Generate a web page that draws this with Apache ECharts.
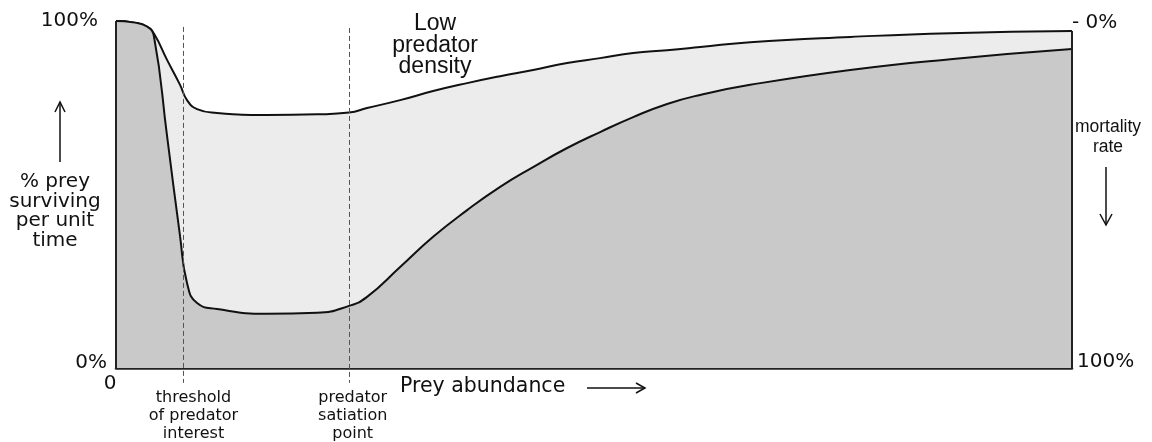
<!DOCTYPE html>
<html>
<head>
<meta charset="utf-8">
<script src="https://cdn.jsdelivr.net/npm/echarts@6/dist/echarts.min.js"></script>
<style>
  html, body { margin: 0; padding: 0; background: #fff; }
  #chart { width: 1152px; height: 442px; }
</style>
</head>
<body>
<div id="chart"></div>
<script>
// prey abundance (arbitrary units, 0..100) and % prey surviving per unit time
const abundance = [0, 1.78, 3.24, 3.98, 5.34, 6.70, 7.43, 8.48, 10.57, 15.80, 21.03, 24.38, 26.26, 29.72, 33.17, 36.73, 40.18, 43.63, 47.19, 50.64, 54.10, 57.65, 61.11, 66.34, 76.80, 87.27, 100];
const lowDensity = [100, 99.6, 98.4, 96.3, 88.8, 81.6, 77.2, 74.6, 73.5, 72.9, 73.1, 73.6, 74.9, 77.2, 79.8, 82.1, 84.1, 85.9, 87.9, 89.3, 90.8, 91.6, 92.5, 93.9, 95.4, 96.5, 97.1];
const highDensity = [100, 99.6, 98.4, 95.4, 66.9, 38.0, 24.5, 18.7, 17.0, 15.6, 15.9, 17.9, 20.5, 29.1, 37.8, 45.5, 52.2, 57.9, 63.4, 68.0, 72.3, 76.1, 78.7, 81.6, 85.9, 89.0, 91.9];

// dashed reference lines: threshold of predator interest, predator satiation point
const markerAbundance = [7.01, 24.38];
const markerTop = [98.3, 98.0];
const markerBottom = -4.3;

const survivalTicks = [0, 100];
const mortalityTicks = [0, 100];
const abundanceTicks = [0];

const yMin = -4.5; // room below the x axis for the dashed lines

const verdana = "'DejaVu Sans', Verdana, sans-serif";
const arial = "'Liberation Sans', Arial, sans-serif";
const ink = "#111";

const chart = echarts.init(document.getElementById("chart"));

const lastLow = lowDensity[lowDensity.length - 1];

chart.setOption({
  animation: false,
  backgroundColor: "#fff",
  grid: { left: 116, right: 80, top: 21, bottom: 58.4, outerBoundsMode: "none" },

  xAxis: {
    type: "value",
    min: 0,
    max: 100,
    axisLine: { onZero: true, lineStyle: { color: "#222", width: 2.5 } },
    axisTick: { show: false },
    splitLine: { show: false },
    axisLabel: {
      customValues: abundanceTicks,
      margin: -10,
      formatter: (v) => `{z|${v}}`,
      rich: { z: { fontFamily: verdana, fontSize: 20, color: ink, padding: [0, 12, 0, 0] } },
    },
  },

  yAxis: [
    {
      type: "value",
      min: yMin,
      max: 100,
      position: "left",
      axisLine: { show: false },
      axisTick: { show: false },
      splitLine: { show: false },
      axisLabel: {
        customValues: survivalTicks,
        margin: 9,
        formatter: (v) => (v === 0 ? `{lo|${v}%}` : `{hi|${v}%}`),
        rich: {
          lo: { fontFamily: verdana, fontSize: 20, color: ink, padding: [0, 0, 10, 0] },
          hi: { fontFamily: verdana, fontSize: 20, color: ink, padding: [0, 9, 0, 0] },
        },
      },
    },
    {
      type: "value",
      min: 0,
      max: 100 - yMin,
      inverse: true,
      position: "right",
      axisLine: { show: false },
      axisTick: { show: false },
      splitLine: { show: false },
      axisLabel: {
        customValues: mortalityTicks,
        margin: 0,
        formatter: (v) => (v === 0 ? `{top|- ${v}%}` : `{bot|${v}%}`),
        rich: {
          top: { fontFamily: verdana, fontSize: 20, color: ink, padding: [4, 0, 0, 0] },
          bot: { fontFamily: verdana, fontSize: 20, color: ink, padding: [0, 0, 12, 5] },
        },
      },
    },
  ],

  series: [
    {
      name: "Low predator density",
      type: "line",
      smooth: true,
      showSymbol: false,
      lineStyle: { color: ink, width: 2 },
      areaStyle: { color: "#ececec", opacity: 1 },
      data: abundance.map((x, i) => [x, lowDensity[i]]),
      z: 2,
    },
    {
      name: "High predator density",
      type: "line",
      smooth: true,
      showSymbol: false,
      lineStyle: { color: ink, width: 2 },
      areaStyle: { color: "#c9c9c9", opacity: 1 },
      data: abundance.map((x, i) => [x, highDensity[i]]),
      z: 3,
      markLine: {
        silent: true,
        symbol: ["none", "none"],
        label: { show: false },
        data: [
          // left and right edges of the plot
          [
            { coord: [0, 100], lineStyle: { color: "#222", width: 2, type: "solid" } },
            { coord: [0, 0] },
          ],
          [
            { coord: [100, lastLow], lineStyle: { color: "#222", width: 2, type: "solid" } },
            { coord: [100, 0] },
          ],
          ...markerAbundance.map((x, i) => [
            { coord: [x, markerTop[i]], lineStyle: { color: "#555", width: 1, type: [5, 3] } },
            { coord: [x, markerBottom] },
          ]),
        ],
      },
    },
  ],

  graphic: [
    {
      type: "text", x: 55, y: 172.3,
      style: { text: "% prey\nsurviving\nper unit\ntime", font: `20px ${verdana}`, fill: ink, align: "center", verticalAlign: "top", lineHeight: 19.5 },
    },
    {
      type: "text", x: 435, y: 13,
      style: { text: "Low\npredator\ndensity", font: `23px ${arial}`, fill: ink, align: "center", verticalAlign: "top", lineHeight: 21.5 },
    },
    {
      type: "text", x: 500, y: 218,
      style: { text: "High\npredator\ndensity", font: `23.5px ${arial}`, fill: ink, align: "center", verticalAlign: "top", lineHeight: 23 },
    },
    {
      type: "text", x: 1108, y: 116.7,
      style: { text: "mortality\nrate", font: `17.5px ${arial}`, fill: ink, align: "center", verticalAlign: "top", lineHeight: 20 },
    },
    {
      type: "text", x: 193.5, y: 389,
      style: { text: "threshold\nof predator\ninterest", font: `16px ${verdana}`, fill: ink, align: "center", verticalAlign: "top", lineHeight: 18 },
    },
    {
      type: "text", x: 352.7, y: 389,
      style: { text: "predator\nsatiation\npoint", font: `16px ${verdana}`, fill: ink, align: "center", verticalAlign: "top", lineHeight: 18 },
    },
    {
      type: "text", x: 400, y: 387,
      style: { text: "Prey abundance", font: `20.5px ${verdana}`, fill: ink, align: "left", verticalAlign: "middle" },
    },
    // arrows
    { type: "polyline", shape: { points: [[60, 162], [60, 102]] }, style: { stroke: ink, lineWidth: 1.5, fill: null } },
    { type: "polyline", shape: { points: [[55, 112], [60, 102], [65, 112]] }, style: { stroke: ink, lineWidth: 1.5, fill: null } },
    { type: "polyline", shape: { points: [[1106, 167], [1106, 225]] }, style: { stroke: ink, lineWidth: 1.5, fill: null } },
    { type: "polyline", shape: { points: [[1100, 214], [1106, 225], [1112, 214]] }, style: { stroke: ink, lineWidth: 1.5, fill: null } },
    { type: "polyline", shape: { points: [[587, 388], [645, 388]] }, style: { stroke: ink, lineWidth: 1.5, fill: null } },
    { type: "polyline", shape: { points: [[636, 383], [645, 388], [636, 393]] }, style: { stroke: ink, lineWidth: 1.5, fill: null } },
  ],
});

window.addEventListener("resize", chart.resize);
</script>
</body>
</html>
